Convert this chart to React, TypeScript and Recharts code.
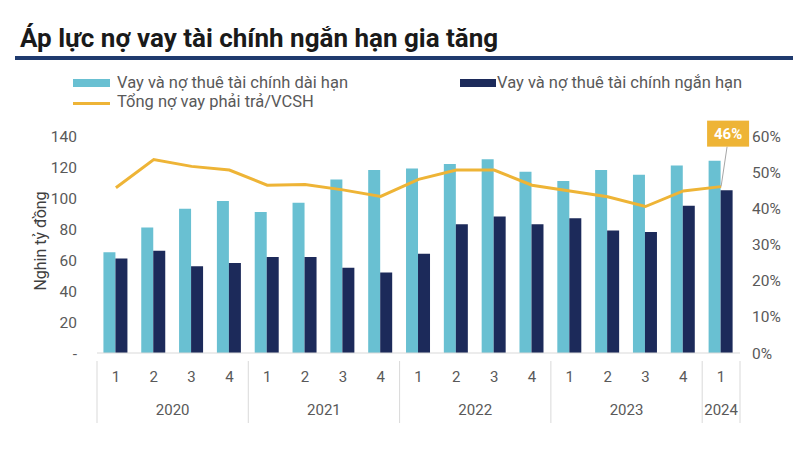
import React from 'react';
import { ComposedChart, Bar, Line, XAxis, YAxis, LabelList } from 'recharts';

const quarters = ['1', '2', '3', '4', '1', '2', '3', '4', '1', '2', '3', '4', '1', '2', '3', '4', '1'];
const years = ['2020', '2020', '2020', '2020', '2021', '2021', '2021', '2021', '2022', '2022', '2022', '2022', '2023', '2023', '2023', '2023', '2024'];
const longTerm = [65, 81, 93, 98, 91, 97, 112, 118, 119, 122, 125, 117, 111, 118, 115, 121, 124];
const shortTerm = [61, 66, 56, 58, 62, 62, 55, 52, 64, 83, 88, 83, 87, 79, 78, 95, 105];
const ratio = [45.7, 53.5, 51.6, 50.6, 46.4, 46.6, 45.1, 43.3, 48.0, 50.6, 50.6, 46.4, 44.8, 43.2, 40.5, 44.8, 46];
const leftTicks = [0, 20, 40, 60, 80, 100, 120, 140];
const rightTicks = [0, 10, 20, 30, 40, 50, 60];

const data = quarters.map((q, i) => ({
  key: `${years[i]}-${q}-${i}`,
  q,
  year: years[i],
  longTerm: longTerm[i],
  shortTerm: shortTerm[i],
  ratio: ratio[i],
}));

const FONT = 'Roboto, "Liberation Sans", Arial, sans-serif';
const LIGHT = '#69C0D2';
const DARK = '#1C2A5A';
const GOLD = '#EEB436';
const GRAY = '#595959';

const XTick = (props: any) => {
  const { x, y, index, width } = props;
  const n = data.length;
  const bw = (width || 643) / n;
  const d = data[index];
  if (!d) return null;
  const els: any[] = [];
  els.push(
    <text key="q" x={x} y={y + 21} textAnchor="middle" fill={GRAY} fontSize={15} fontFamily={FONT}>
      {d.q}
    </text>
  );
  const isFirst = index === 0 || data[index - 1].year !== d.year;
  if (isFirst) {
    let count = 0;
    for (let j = index; j < n && data[j].year === d.year; j++) count++;
    const cx = x + ((count - 1) * bw) / 2;
    els.push(<line key="sep" x1={x - bw / 2} x2={x - bw / 2} y1={y} y2={y + 62} stroke="#D9D9D9" strokeWidth={1} />);
    els.push(
      <text key="y" x={cx} y={y + 54} textAnchor="middle" fill={GRAY} fontSize={15} fontFamily={FONT}>
        {d.year}
      </text>
    );
  }
  if (index === n - 1) {
    els.push(<line key="end" x1={x + bw / 2} x2={x + bw / 2} y1={y} y2={y + 62} stroke="#D9D9D9" strokeWidth={1} />);
  }
  return <g>{els}</g>;
};

const LastLabel = (props: any) => {
  const { x, y, index, value } = props;
  if (index !== data.length - 1) return null;
  const bx = x + 7;
  const by = y - 53;
  return (
    <g>
      <line x1={x} y1={y} x2={x + 6} y2={y - 40} stroke="#A6A6A6" strokeWidth={1} />
      <rect x={bx - 21} y={by - 13} width={42} height={26} fill={GOLD} />
      <text x={bx} y={by + 5.5} textAnchor="middle" fill="#FFFFFF" fontSize={15} fontWeight={700} fontFamily={FONT}>
        {`${Math.round(value)}%`}
      </text>
    </g>
  );
};

export default function App() {
  return (
    <div style={{ position: 'absolute', left: 0, top: 0, width: 802, height: 450, background: '#fff', fontFamily: FONT }}>
      <div style={{ position: 'absolute', left: 20, top: 23, fontSize: 26, fontWeight: 700, color: '#1a1a1a', whiteSpace: 'nowrap' }}>
        Áp lực nợ vay tài chính ngắn hạn gia tăng
      </div>
      <div style={{ position: 'absolute', left: 15, top: 56, width: 778, height: 4, background: '#1F3A6E' }} />
      <div style={{ position: 'absolute', left: 73, top: 79, width: 37, height: 8, background: LIGHT }} />
      <div style={{ position: 'absolute', left: 117, top: 73, fontSize: 16.5, color: GRAY, whiteSpace: 'nowrap' }}>
        Vay và nợ thuê tài chính dài hạn
      </div>
      <div style={{ position: 'absolute', left: 460, top: 79, width: 36, height: 8, background: DARK }} />
      <div style={{ position: 'absolute', left: 497, top: 73, fontSize: 16.5, color: GRAY, whiteSpace: 'nowrap' }}>
        Vay và nợ thuê tài chính ngắn hạn
      </div>
      <div style={{ position: 'absolute', left: 73, top: 102, width: 37, height: 3, background: GOLD }} />
      <div style={{ position: 'absolute', left: 117, top: 92, fontSize: 16.5, color: GRAY, whiteSpace: 'nowrap' }}>
        Tổng nợ vay phải trả/VCSH
      </div>
      <div
        style={{
          position: 'absolute',
          left: 40,
          top: 241,
          transform: 'translate(-50%, -50%) rotate(-90deg)',
          fontSize: 16,
          color: '#404040',
          whiteSpace: 'nowrap',
        }}
      >
        Nghin tỷ đồng
      </div>
      <div style={{ position: 'absolute', left: 0, top: 0 }}>
        <ComposedChart
          width={802}
          height={450}
          data={data}
          margin={{ top: 136, right: 12, bottom: 0, left: 47 }}
          barGap={0}
          barCategoryGap="17%"
        >
          <XAxis
            dataKey="key"
            xAxisId="x"
            height={97}
            interval={0}
            tickLine={false}
            axisLine={{ stroke: '#D9D9D9' }}
            tick={<XTick />}
          />
          <YAxis
            yAxisId="left"
            orientation="left"
            width={50}
            domain={[0, 140]}
            ticks={leftTicks}
            tickLine={false}
            axisLine={false}
            tickSize={0}
            tickMargin={20}
            tick={{ fill: GRAY, fontSize: 15.5, fontFamily: FONT }}
            tickFormatter={(v: number) => (v === 0 ? '-' : String(v))}
          />
          <YAxis
            yAxisId="right"
            orientation="right"
            width={50}
            domain={[0, 60]}
            ticks={rightTicks}
            tickLine={false}
            axisLine={false}
            tickSize={0}
            tickMargin={12}
            tick={{ fill: GRAY, fontSize: 15.5, fontFamily: FONT }}
            tickFormatter={(v: number) => `${v}%`}
          />
          <Bar xAxisId="x" yAxisId="left" dataKey="longTerm" fill={LIGHT} isAnimationActive={false} />
          <Bar xAxisId="x" yAxisId="left" dataKey="shortTerm" fill={DARK} isAnimationActive={false} />
          <Line
            xAxisId="x"
            yAxisId="right"
            dataKey="ratio"
            stroke={GOLD}
            strokeWidth={3}
            dot={false}
            type="linear"
            isAnimationActive={false}
          >
            <LabelList dataKey="ratio" content={<LastLabel />} />
          </Line>
        </ComposedChart>
      </div>
    </div>
  );
}
